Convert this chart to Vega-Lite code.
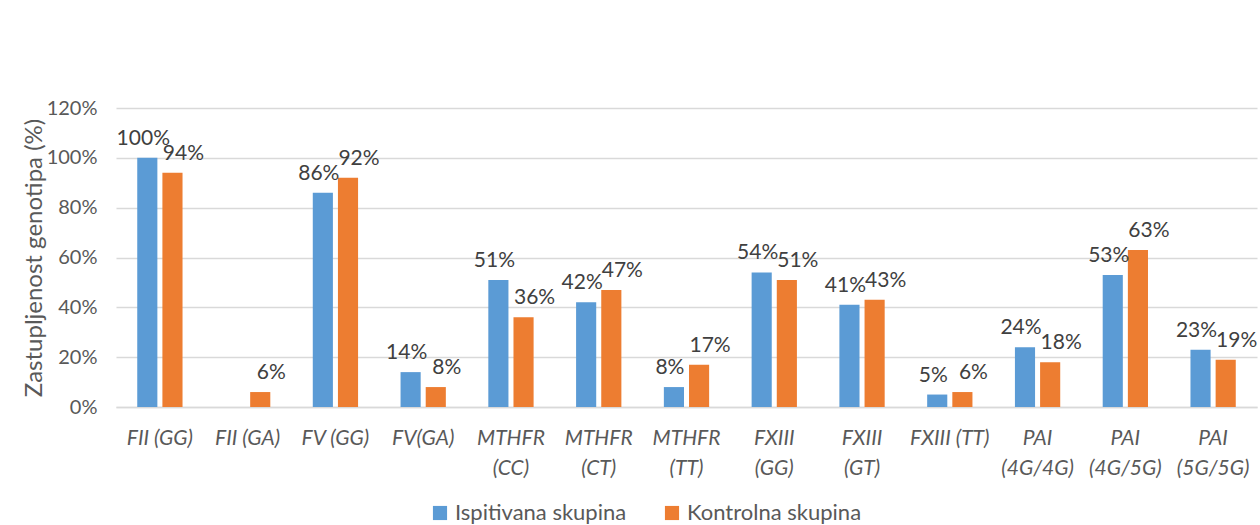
{
  "$schema": "https://vega.github.io/schema/vega-lite/v6.json",
  "width": 1141,
  "height": 299,
  "autosize": {"type": "none"},
  "padding": {"left": 116, "top": 108, "right": 3, "bottom": 118},
  "background": "white",
  "config": {
    "font": "Lato",
    "view": {"stroke": null},
    "axis": {"labelFont": "Lato", "titleFont": "Lato"}
  },
  "data": {
    "values": [
      {"genotip": "FII (GG)", "skupina": "Ispitivana skupina", "udio": 1.00},
      {"genotip": "FII (GG)", "skupina": "Kontrolna skupina", "udio": 0.94},
      {"genotip": "FII (GA)", "skupina": "Kontrolna skupina", "udio": 0.06},
      {"genotip": "FV (GG)", "skupina": "Ispitivana skupina", "udio": 0.86},
      {"genotip": "FV (GG)", "skupina": "Kontrolna skupina", "udio": 0.92},
      {"genotip": "FV(GA)", "skupina": "Ispitivana skupina", "udio": 0.14},
      {"genotip": "FV(GA)", "skupina": "Kontrolna skupina", "udio": 0.08},
      {"genotip": "MTHFR (CC)", "skupina": "Ispitivana skupina", "udio": 0.51},
      {"genotip": "MTHFR (CC)", "skupina": "Kontrolna skupina", "udio": 0.36},
      {"genotip": "MTHFR (CT)", "skupina": "Ispitivana skupina", "udio": 0.42},
      {"genotip": "MTHFR (CT)", "skupina": "Kontrolna skupina", "udio": 0.47},
      {"genotip": "MTHFR (TT)", "skupina": "Ispitivana skupina", "udio": 0.08},
      {"genotip": "MTHFR (TT)", "skupina": "Kontrolna skupina", "udio": 0.17},
      {"genotip": "FXIII (GG)", "skupina": "Ispitivana skupina", "udio": 0.54},
      {"genotip": "FXIII (GG)", "skupina": "Kontrolna skupina", "udio": 0.51},
      {"genotip": "FXIII (GT)", "skupina": "Ispitivana skupina", "udio": 0.41},
      {"genotip": "FXIII (GT)", "skupina": "Kontrolna skupina", "udio": 0.43},
      {"genotip": "FXIII (TT)", "skupina": "Ispitivana skupina", "udio": 0.05},
      {"genotip": "FXIII (TT)", "skupina": "Kontrolna skupina", "udio": 0.06},
      {"genotip": "PAI (4G/4G)", "skupina": "Ispitivana skupina", "udio": 0.24},
      {"genotip": "PAI (4G/4G)", "skupina": "Kontrolna skupina", "udio": 0.18},
      {"genotip": "PAI (4G/5G)", "skupina": "Ispitivana skupina", "udio": 0.53},
      {"genotip": "PAI (4G/5G)", "skupina": "Kontrolna skupina", "udio": 0.63},
      {"genotip": "PAI (5G/5G)", "skupina": "Ispitivana skupina", "udio": 0.23},
      {"genotip": "PAI (5G/5G)", "skupina": "Kontrolna skupina", "udio": 0.19}
    ]
  },
  "encoding": {
    "x": {
      "field": "genotip",
      "type": "nominal",
      "sort": null,
      "scale": {"paddingInner": 0.484, "paddingOuter": 0.242},
      "axis": {
        "title": null,
        "labelAngle": 0,
        "labelFontSize": 21,
        "labelFontStyle": "italic",
        "labelColor": "#595959",
        "labelPadding": 31,
        "labelLineHeight": 30,
        "labelBaseline": "middle",
        "labelLimit": 200,
        "ticks": false,
        "domain": true,
        "domainColor": "#d9d9d9",
        "domainWidth": 1.5,
        "labelExpr": "indexof(['FII (GG)','FII (GA)','FV (GG)','FV(GA)','FXIII (TT)'], datum.value) >= 0 ? datum.value : split(datum.value, ' ')"
      }
    },
    "xOffset": {
      "field": "skupina",
      "type": "nominal",
      "scale": {"domain": ["Ispitivana skupina", "Kontrolna skupina"], "paddingInner": 0.2, "paddingOuter": 0}
    },
    "y": {
      "field": "udio",
      "type": "quantitative",
      "scale": {"domain": [0, 1.2], "nice": false},
      "axis": {
        "title": "Zastupljenost genotipa (%)",
        "titleFontSize": 24,
        "titleFontWeight": "normal",
        "titleColor": "#595959",
        "titlePadding": 0,
        "values": [0, 0.2, 0.4, 0.6, 0.8, 1.0, 1.2],
        "format": ".0%",
        "labelFontSize": 20,
        "labelColor": "#595959",
        "labelPadding": 19,
        "ticks": false,
        "domain": false,
        "grid": true,
        "gridColor": "#d9d9d9",
        "gridWidth": 1.5
      }
    }
  },
  "layer": [
    {
      "mark": {"type": "bar"},
      "encoding": {
        "color": {
          "field": "skupina",
          "type": "nominal",
          "scale": {"domain": ["Ispitivana skupina", "Kontrolna skupina"], "range": ["#5B9BD5", "#ED7D31"]},
          "legend": {
            "title": null,
            "orient": "none",
            "direction": "horizontal",
            "legendX": 313,
            "legendY": 394,
            "symbolType": "square",
            "symbolSize": 200,
            "symbolStrokeWidth": 0,
            "labelFontSize": 22,
            "labelColor": "#595959",
            "labelFont": "Lato",
            "columnPadding": 34,
            "labelOffset": 4,
            "labelLimit": 300
          }
        }
      }
    },
    {
      "transform": [{"filter": "datum.skupina == 'Ispitivana skupina'"}],
      "mark": {"type": "text", "baseline": "bottom", "dy": -9, "dx": -4, "fontSize": 21, "color": "#404040"},
      "encoding": {
        "text": {"field": "udio", "type": "quantitative", "format": ".0%"}
      }
    },
    {
      "transform": [{"filter": "datum.skupina == 'Kontrolna skupina'"}],
      "mark": {"type": "text", "baseline": "bottom", "dy": -9, "dx": 11, "fontSize": 21, "color": "#404040"},
      "encoding": {
        "text": {"field": "udio", "type": "quantitative", "format": ".0%"}
      }
    }
  ]
}
